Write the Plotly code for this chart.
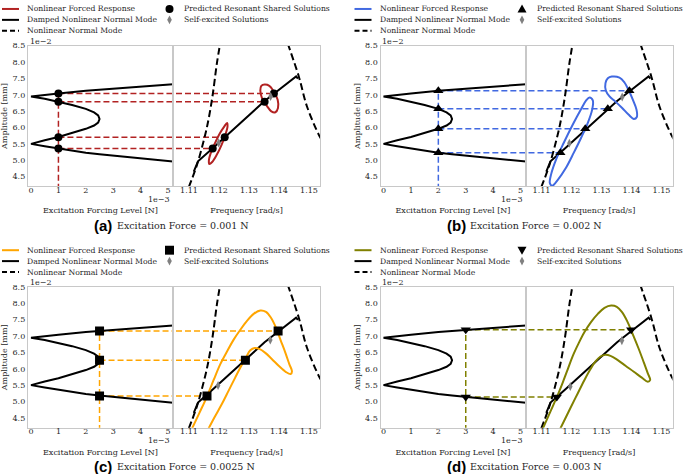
import plotly.graph_objects as go

W, H = 685, 474

# ---------------- shared curves (force in 1e-3 N, amplitude in 1e-2 mm) ----------------
# damped nonlinear normal mode, force / amplitude plane
dnnm_force = [5.3, 4.0, 3.0, 2.0, 1.0, 0.5, 0.0, 0.5, 1.0, 1.5, 2.0, 2.3, 2.45, 2.5,
              2.45, 2.3, 2.0, 1.5, 1.0, 0.5, 0.0, 0.5, 1.0, 2.0, 2.5, 3.0, 4.0, 5.3]
dnnm_amp = [7.33, 7.25, 7.19, 7.12, 7.04, 6.99, 6.945, 6.88, 6.79, 6.69, 6.57, 6.46, 6.37, 6.26,
            6.15, 6.06, 5.96, 5.83, 5.71, 5.61, 5.50, 5.43, 5.36, 5.23, 5.18, 5.14, 5.05, 4.95]

# damped NNM backbone, frequency / amplitude plane
bb_freq = [1.1116, 1.1130, 1.1179, 1.1219, 1.1352, 1.1383, 1.1457, 1.1463]
bb_amp = [4.65, 4.97, 5.37, 5.70, 6.81, 7.03, 7.56, 7.49]

# undamped NNM, two branches
nnm_l_freq = [1.1099, 1.1127, 1.1154, 1.1166, 1.1179, 1.1193, 1.1204]
nnm_l_amp = [4.17, 4.87, 5.78, 6.29, 7.00, 7.96, 8.57]
nnm_r_freq = [1.1429, 1.1466, 1.1493, 1.1532, 1.1541]
nnm_r_amp = [8.57, 7.56, 6.65, 5.79, 5.64]

force_ticks = [0, 1, 2, 3, 4, 5]
freq_ticks = [1.11, 1.12, 1.13, 1.14, 1.15]
freq_labels = ["1.11", "1.12", "1.13", "1.14", "1.15"]
amp_ticks = [4.5, 5.0, 5.5, 6.0, 6.5, 7.0, 7.5, 8.0, 8.5]

force_range = [-0.11, 5.18]
freq_range = [1.10467, 1.15367]
amp_range = [4.2, 8.5]

# ---------------- panel (a): F = 0.001 N ----------------
a_force = 1.0
a_amp = [5.36, 5.70, 6.79, 7.04]
a_freq = [1.1179, 1.1219, 1.1352, 1.1383]
a_self_freq = [1.1199, 1.1372]
a_self_amp = [5.53, 6.95]
a_frc1_freq = [1.12083, 1.11921, 1.11773, 1.11678, 1.11663, 1.11730, 1.11863,
               1.12026, 1.12174, 1.12269, 1.12284, 1.12216, 1.12083]
a_frc1_amp = [5.459, 5.157, 4.947, 4.886, 4.991, 5.232, 5.517,
              5.819, 6.029, 6.136, 6.031, 5.789, 5.459]
a_frc2_freq = [1.13433, 1.13378, 1.13411, 1.13522, 1.13678, 1.13822, 1.13956,
               1.13967, 1.13878, 1.13744, 1.13589, 1.13433]
a_frc2_amp = [6.899, 7.131, 7.273, 7.313, 7.273, 7.101, 6.849,
              6.596, 6.465, 6.495, 6.667, 6.899]

# ---------------- panel (b): F = 0.002 N ----------------
b_force = 2.0
b_amp = [5.23, 5.96, 6.57, 7.12]
b_freq = [1.1163, 1.1246, 1.1321, 1.1393]
b_self_freq = [1.1193, 1.1369]
b_self_amp = [5.52, 6.93]
b_frc1_freq = [1.12322, 1.12078, 1.11822, 1.11544, 1.11356, 1.11278, 1.11322, 1.11489, 1.11744,
               1.12044, 1.12322, 1.12489, 1.12600, 1.12711, 1.12689, 1.12544, 1.12322]
b_frc1_amp = [5.687, 5.232, 4.778, 4.404, 4.222, 4.303, 4.576, 5.030, 5.535,
              6.091, 6.566, 6.828, 6.919, 6.828, 6.545, 6.141, 5.687]
b_frc2_freq = [1.13900, 1.14044, 1.14167, 1.14178, 1.14078, 1.13900, 1.13689, 1.13456,
               1.13267, 1.13144, 1.13133, 1.13211, 1.13344, 1.13600, 1.13767, 1.13900]
b_frc2_amp = [7.152, 6.849, 6.545, 6.323, 6.263, 6.394, 6.596, 6.798,
              6.949, 7.131, 7.356, 7.505, 7.556, 7.525, 7.374, 7.152]

# ---------------- panel (c): F = 0.0025 N ----------------
c_force = 2.5
c_amp = [5.17, 6.26, 7.15]
c_freq = [1.1160, 1.1288, 1.1397]
c_self_freq = [1.1197, 1.1371]
c_self_amp = [5.49, 6.88]
c_frc_freq = [1.11100, 1.11344, 1.11600, 1.11822, 1.12044, 1.12267, 1.12489, 1.12711, 1.12933,
              1.13156, 1.13378, 1.13567, 1.13733, 1.13900, 1.14056, 1.14211, 1.14344, 1.14433,
              1.14389, 1.14233, 1.13989, 1.13767, 1.13544, 1.13344, 1.13189, 1.13044, 1.12900,
              1.12744, 1.12544, 1.12322, 1.12100, 1.11856, 1.11633]
c_frc_amp = [4.172, 4.646, 5.152, 5.657, 6.141, 6.525, 6.889, 7.192, 7.465,
             7.677, 7.778, 7.737, 7.556, 7.253, 6.869, 6.495, 6.141, 5.919,
             5.838, 5.899, 6.091, 6.293, 6.485, 6.606, 6.636, 6.566, 6.343,
             6.091, 5.737, 5.333, 4.929, 4.525, 4.141]

# ---------------- panel (d): F = 0.003 N ----------------
d_force = 3.0
d_amp = [5.14, 7.19]
d_freq = [1.1151, 1.1399]
d_self_freq = [1.1196, 1.1368]
d_self_amp = [5.46, 6.86]
d_frc_freq = [1.11044, 1.11289, 1.11511, 1.11711, 1.11878, 1.12044, 1.12233, 1.12433, 1.12656,
              1.12878, 1.13100, 1.13322, 1.13511, 1.13678, 1.13856, 1.14044, 1.14233, 1.14411,
              1.14544, 1.14622, 1.14544, 1.14344, 1.14078, 1.13800, 1.13544, 1.13300, 1.13122,
              1.12967, 1.12800, 1.12633, 1.12433, 1.12211, 1.11989, 1.11789, 1.11600]
d_frc_amp = [4.172, 4.677, 5.131, 5.586, 5.990, 6.394, 6.768, 7.121, 7.434,
             7.677, 7.859, 7.929, 7.889, 7.737, 7.455, 7.051, 6.626, 6.192,
             5.859, 5.657, 5.606, 5.727, 5.909, 6.091, 6.263, 6.394, 6.424,
             6.374, 6.222, 5.990, 5.657, 5.253, 4.848, 4.475, 4.121]

panels = [
    dict(tag="(a)", label="0.001", color="firebrick", symbol="circle", msize=8,
         force=a_force, amp=a_amp, freq=a_freq, se=(a_self_freq, a_self_amp),
         frc=[(a_frc1_freq, a_frc1_amp), (a_frc2_freq, a_frc2_amp)], ox=0, oy=0),
    dict(tag="(b)", label="0.002", color="royalblue", symbol="triangle-up", msize=9,
         force=b_force, amp=b_amp, freq=b_freq, se=(b_self_freq, b_self_amp),
         frc=[(b_frc1_freq, b_frc1_amp), (b_frc2_freq, b_frc2_amp)], ox=352.5, oy=0),
    dict(tag="(c)", label="0.0025", color="orange", symbol="square", msize=9,
         force=c_force, amp=c_amp, freq=c_freq, se=(c_self_freq, c_self_amp),
         frc=[(c_frc_freq, c_frc_amp)], ox=0, oy=243.3),
    dict(tag="(d)", label="0.003", color="olive", symbol="triangle-down", msize=9,
         force=d_force, amp=d_amp, freq=d_freq, se=(d_self_freq, d_self_amp),
         frc=[(d_frc_freq, d_frc_amp)], ox=352.5, oy=243.3),
]

serif = "DejaVu Serif"
ink = "#262626"
frame = "#c8c8c8"
leg_size = 7.7


def fx(x):
    return x / W


def fy(y):
    return 1 - y / H


fig = go.Figure()
layout = dict(width=W, height=H, autosize=False, margin=dict(l=0, r=0, t=0, b=0),
              showlegend=False, hovermode=False,
              paper_bgcolor="white", plot_bgcolor="white",
              font=dict(family=serif, size=8, color=ink))
shapes = []
annots = []

axis_common = dict(showgrid=False, zeroline=False, showline=True, mirror=True,
                   linecolor=frame, linewidth=1.3, ticks="",
                   tickfont=dict(family=serif, size=8, color=ink))

for k, p in enumerate(panels):
    ox, oy, col = p["ox"], p["oy"], p["color"]
    nl, nr = 2 * k + 1, 2 * k + 2
    xl = "x" if nl == 1 else f"x{nl}"
    yl = "y" if nl == 1 else f"y{nl}"
    xr, yr = f"x{nr}", f"y{nr}"

    # dashed connectors between force plane and frequency plane
    cx_l, cy_l, cx_r, cy_r = [], [], [], []
    for a, f in zip(p["amp"], p["freq"]):
        cx_l += [p["force"], force_range[1] + 0.2, None]
        cy_l += [a, a, None]
        cx_r += [freq_range[0] - 0.002, f, None]
        cy_r += [a, a, None]
    cx_l += [p["force"], p["force"]]
    cy_l += [amp_range[0] - 0.1, max(p["amp"])]
    dash_conn = dict(color=col, width=1.5, dash="6px,3px")
    fig.add_trace(go.Scatter(x=cx_l, y=cy_l, mode="lines", line=dash_conn, xaxis=xl, yaxis=yl))
    fig.add_trace(go.Scatter(x=cx_r, y=cy_r, mode="lines", line=dash_conn, xaxis=xr, yaxis=yr))

    # left: damped NNM vs forcing level
    fig.add_trace(go.Scatter(x=dnnm_force, y=dnnm_amp, mode="lines",
                             line=dict(color="black", width=2), xaxis=xl, yaxis=yl))
    fig.add_trace(go.Scatter(x=[p["force"]] * len(p["amp"]), y=p["amp"], mode="markers",
                             marker=dict(symbol=p["symbol"], size=p["msize"], color="black"),
                             xaxis=xl, yaxis=yl))

    # right: NNM, backbone, forced response
    for fq, am in [(nnm_l_freq, nnm_l_amp), (nnm_r_freq, nnm_r_amp)]:
        fig.add_trace(go.Scatter(x=fq, y=am, mode="lines", line_shape="spline",
                                 line=dict(color="black", width=2, dash="7px,3.5px"),
                                 xaxis=xr, yaxis=yr))
    fig.add_trace(go.Scatter(x=bb_freq, y=bb_amp, mode="lines",
                             line=dict(color="black", width=2), xaxis=xr, yaxis=yr))
    for fq, am in p["frc"]:
        fig.add_trace(go.Scatter(x=fq, y=am, mode="lines", line_shape="spline",
                                 line=dict(color=col, width=2), xaxis=xr, yaxis=yr))
    fig.add_trace(go.Scatter(x=p["freq"], y=p["amp"], mode="markers",
                             marker=dict(symbol=p["symbol"], size=p["msize"], color="black"),
                             xaxis=xr, yaxis=yr))
    fig.add_trace(go.Scatter(x=p["se"][0], y=p["se"][1], mode="markers",
                             marker=dict(symbol="diamond-tall", size=6.5, color="grey"),
                             xaxis=xr, yaxis=yr))

    ydom = [fy(184 + oy), fy(42 + oy)]
    layout["xaxis" if nl == 1 else f"xaxis{nl}"] = dict(
        axis_common, domain=[fx(28 + ox), fx(173 + ox)], range=force_range, anchor=yl,
        tickvals=force_ticks, ticktext=[str(t) for t in force_ticks], ticklabelstandoff=-4,
        title=dict(text="Excitation Forcing Level [N]", standoff=13,
                   font=dict(family=serif, size=8, color=ink)))
    layout["yaxis" if nl == 1 else f"yaxis{nl}"] = dict(
        axis_common, domain=ydom, range=amp_range, anchor=xl,
        tickvals=amp_ticks, tickformat=".1f",
        title=dict(text="Amplitude [mm]", standoff=3,
                   font=dict(family=serif, size=8, color=ink)))
    layout[f"xaxis{nr}"] = dict(
        axis_common, domain=[fx(173 + ox), fx(320 + ox)], range=freq_range, anchor=yr,
        tickvals=freq_ticks, ticktext=freq_labels, ticklabelstandoff=-4,
        title=dict(text="Frequency [rad/s]", standoff=13,
                   font=dict(family=serif, size=8, color=ink)))
    layout[f"yaxis{nr}"] = dict(axis_common, domain=ydom, range=amp_range, anchor=xr,
                                showticklabels=False)

    # offset labels
    annots.append(dict(text="1e\u22122", x=fx(28 + ox), y=fy(38 + oy), xref="paper", yref="paper",
                       xanchor="left", yanchor="middle", showarrow=False,
                       font=dict(family=serif, size=8, color=ink)))
    annots.append(dict(text="1e\u22123", x=fx(172 + ox), y=fy(197 + oy), xref="paper", yref="paper",
                       xanchor="right", yanchor="middle", showarrow=False,
                       font=dict(family=serif, size=8, color=ink)))
    # caption
    annots.append(dict(text="<b>" + p["tag"] + "</b>", x=fx(92 + ox), y=fy(223 + oy),
                       xref="paper", yref="paper", xanchor="left", yanchor="middle",
                       showarrow=False, font=dict(family="Liberation Sans", size=15, color="black")))
    annots.append(dict(text="Excitation Force = " + p["label"] + " N", x=fx(115 + ox), y=fy(223 + oy),
                       xref="paper", yref="paper", xanchor="left", yanchor="middle",
                       showarrow=False, font=dict(family=serif, size=9.5, color=ink)))

    # legend block
    rows = [oy + 5, oy + 16, oy + 27]
    samples = [(col, "solid", "Nonlinear Forced Response"),
               ("black", "solid", "Damped Nonlinear Normal Mode"),
               ("black", "dash", "Nonlinear Normal Mode")]
    for ry, (lc, ld, txt) in zip(rows, samples):
        shapes.append(dict(type="line", xref="paper", yref="paper",
                           x0=fx(2 + ox), x1=fx(19 + ox), y0=fy(ry), y1=fy(ry),
                           line=dict(color=lc, width=2, dash="5px,3px" if ld == "dash" else "solid")))
        annots.append(dict(text=txt, x=fx(25 + ox), y=fy(ry), xref="paper", yref="paper",
                           xanchor="left", yanchor="middle", showarrow=False,
                           font=dict(family=serif, size=leg_size, color=ink)))
    mx, my = 169.5 + ox, rows[0]
    if p["symbol"] == "circle":
        shapes.append(dict(type="circle", xref="paper", yref="paper", fillcolor="black", line_width=0,
                           x0=fx(mx - 4), x1=fx(mx + 4), y0=fy(my + 4), y1=fy(my - 4)))
    elif p["symbol"] == "square":
        shapes.append(dict(type="rect", xref="paper", yref="paper", fillcolor="black", line_width=0,
                           x0=fx(mx - 4.5), x1=fx(mx + 4.5), y0=fy(my + 4.5), y1=fy(my - 4.5)))
    else:
        s = -1 if p["symbol"] == "triangle-up" else 1
        path = (f"M{fx(mx - 4.5)},{fy(my - 3.5 * s)} L{fx(mx + 4.5)},{fy(my - 3.5 * s)} "
                f"L{fx(mx)},{fy(my + 4.5 * s)} Z")
        shapes.append(dict(type="path", xref="paper", yref="paper", path=path,
                           fillcolor="black", line_width=0))
    dx, dy = mx, rows[1]
    path = (f"M{fx(dx)},{fy(dy - 4.5)} L{fx(dx + 2.3)},{fy(dy)} "
            f"L{fx(dx)},{fy(dy + 4.5)} L{fx(dx - 2.3)},{fy(dy)} Z")
    shapes.append(dict(type="path", xref="paper", yref="paper", path=path,
                       fillcolor="grey", line_width=0))
    for ry, txt in zip(rows[:2], ["Predicted Resonant Shared Solutions", "Self-excited Solutions"]):
        annots.append(dict(text=txt, x=fx(182 + ox), y=fy(ry), xref="paper", yref="paper",
                           xanchor="left", yanchor="middle", showarrow=False,
                           font=dict(family=serif, size=leg_size, color=ink)))

layout["shapes"] = shapes
layout["annotations"] = annots
fig.update_layout(**layout)

# page margin removed so the 685x474 figure sits flush in the window
fig.write_html("out.html", config={"displayModeBar": False},
               post_script="document.body.style.margin='0px';")
